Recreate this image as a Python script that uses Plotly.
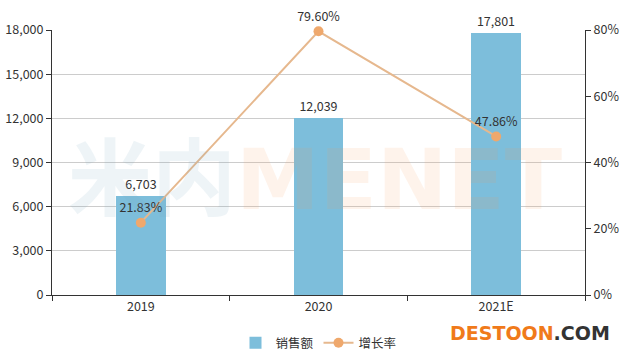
import plotly.graph_objects as go

categories = ["2019", "2020", "2021E"]
sales = [6703, 12039, 17801]
growth = [21.83, 79.60, 47.86]
left_ticks = [0, 3000, 6000, 9000, 12000, 15000, 18000]
right_ticks = [0, 20, 40, 60, 80]

font_family = "Noto Sans CJK SC, Noto Sans, sans-serif"

fig = go.Figure()
fig.add_trace(go.Bar(
    x=categories, y=sales, name="销售额",
    marker=dict(color="#7dbedb", line=dict(width=0)),
    width=0.28,
    text=[f"{v:,}" for v in sales], textposition="outside",
    textfont=dict(color="#333333", size=12.5),
    cliponaxis=False,
))
fig.add_trace(go.Scatter(
    x=categories, y=growth, name="增长率", yaxis="y2",
    mode="lines+markers+text",
    line=dict(color="#e6b88e", width=2),
    marker=dict(color="#efa86c", size=10),
    text=[f"{v:.2f}%" for v in growth], textposition="top center",
    textfont=dict(color="#333333", size=12.5),
    cliponaxis=False,
))

fig.update_layout(
    width=626, height=355,
    margin=dict(l=52, r=41, t=30, b=60, autoexpand=False),
    paper_bgcolor="white", plot_bgcolor="white",
    font=dict(family=font_family, size=12.5, color="#333333"),
    showlegend=True,
    legend=dict(orientation="h", x=0.5, xanchor="center", y=-0.125, yanchor="top",
                font=dict(size=12.5, color="#333333")),
    xaxis=dict(
        showline=True, linecolor="#333333", linewidth=1,
        ticks="outside", ticklen=5, tickcolor="#333333",
        tickson="boundaries", showgrid=False,
        tickfont=dict(size=12.5, color="#333333"),
    ),
    yaxis=dict(
        range=[0, 18000], tickvals=left_ticks,
        ticktext=[f"{v:,}" for v in left_ticks],
        showline=True, linecolor="#333333", linewidth=1,
        ticks="outside", ticklen=5, tickcolor="#333333",
        showgrid=True, gridcolor="#cccccc", zeroline=False,
        tickfont=dict(size=12.5, color="#333333"),
    ),
    yaxis2=dict(
        range=[0, 80], tickvals=right_ticks,
        ticktext=[f"{v}%" for v in right_ticks],
        overlaying="y", side="right",
        showline=True, linecolor="#333333", linewidth=1,
        ticks="outside", ticklen=5, tickcolor="#333333",
        showgrid=False, zeroline=False,
        tickfont=dict(size=12.5, color="#333333"),
    ),
    bargap=0.0,
)

# watermark
fig.add_annotation(
    xref="paper", yref="paper", x=0.027, y=0.435, xanchor="left", yanchor="middle",
    text="<b><span style='color:rgba(120,170,190,0.13)'>米内</span>"
         "<span style='color:rgba(245,160,90,0.12)'>MENET</span></b>",
    showarrow=False, font=dict(size=84, family="DejaVu Sans, Noto Sans CJK SC"),
)
# DESTOON logo
fig.add_annotation(
    xref="paper", yref="paper", x=1.05, y=-0.095, xanchor="right", yanchor="top",
    text="<b><span style='color:#f07a1a'>DESTOON</span><span style='color:#333333'>.COM</span></b>",
    showarrow=False, font=dict(size=19, family="DejaVu Sans"),
)

fig.write_html("out.html")
